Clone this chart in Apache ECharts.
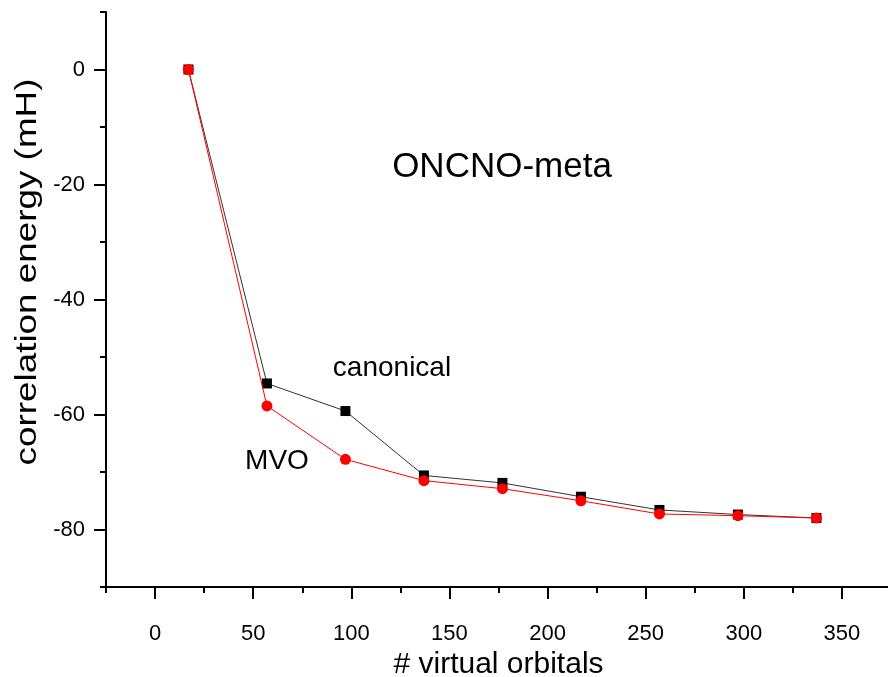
<!DOCTYPE html>
<html>
<head>
<meta charset="utf-8">
<script src="https://cdn.jsdelivr.net/npm/echarts@6/dist/echarts.min.js"></script>
<style>html,body{margin:0;padding:0;background:#fff}#c{width:888px;height:677px}</style>
</head>
<body>
<div id="c"></div>
<script>
const xValues = [17, 57, 97, 137, 177, 217, 257, 297, 337];
const canonical = [0, -54.6, -59.4, -70.6, -71.9, -74.3, -76.6, -77.4, -78.0];
const mvo = [0, -58.5, -67.8, -71.5, -72.9, -75.0, -77.3, -77.6, -78.0];
const xTickLabels = [0, 50, 100, 150, 200, 250, 300, 350];
const yTickLabels = [0, -20, -40, -60, -80];

const FONT = '"Liberation Sans", Arial, sans-serif';
const chart = echarts.init(document.getElementById('c'));
const pairs = (xs, ys) => xs.map((x, i) => [x, ys[i]]);

chart.setOption({
  animation: false,
  backgroundColor: '#fff',
  grid: { left: 106, top: 12, right: -3, bottom: 90, containLabel: false, outerBoundsMode: 'none' },
  xAxis: [
    {
      type: 'value', min: -25, max: 375, position: 'bottom',
      axisLine: { show: true, onZero: false, lineStyle: { color: '#000', width: 2 } },
      axisTick: { show: true, inside: false, length: 12, customValues: xTickLabels, lineStyle: { color: '#000', width: 2 } },
      axisLabel: { show: true, customValues: xTickLabels, margin: 36, fontFamily: FONT, fontSize: 22, color: '#000' },
      splitLine: { show: false },
      name: '# virtual orbitals', nameLocation: 'middle', nameGap: 61,
      nameTextStyle: { fontFamily: FONT, fontSize: 30, color: '#000' }
    },
    {
      type: 'value', min: -25, max: 375, interval: 25, position: 'bottom',
      axisLine: { show: false, onZero: false },
      axisTick: { show: true, inside: false, length: 6, lineStyle: { color: '#000', width: 2 } },
      axisLabel: { show: false },
      splitLine: { show: false }
    }
  ],
  yAxis: [
    {
      type: 'value', min: -90, max: 10, position: 'left',
      axisLine: { show: true, onZero: false, lineStyle: { color: '#000', width: 2 } },
      axisTick: { show: true, inside: false, length: 12, customValues: yTickLabels, lineStyle: { color: '#000', width: 2 } },
      axisLabel: { show: true, customValues: yTickLabels, margin: 21, fontFamily: FONT, fontSize: 22, color: '#000' },
      splitLine: { show: false }
    },
    {
      type: 'value', min: -90, max: 10, interval: 10, position: 'left',
      axisLine: { show: false, onZero: false },
      axisTick: { show: true, inside: false, length: 6, lineStyle: { color: '#000', width: 2 } },
      axisLabel: { show: false },
      splitLine: { show: false }
    }
  ],
  graphic: [
    { type: 'text', x: 502, y: 167, style: { text: 'ONCNO-meta', font: '35px ' + FONT, fill: '#000', align: 'center', verticalAlign: 'middle' } },
    { type: 'text', x: 392, y: 368, style: { text: 'canonical', font: '28px ' + FONT, fill: '#000', align: 'center', verticalAlign: 'middle' } },
    { type: 'text', x: 277, y: 461, style: { text: 'MVO', font: '28px ' + FONT, fill: '#000', align: 'center', verticalAlign: 'middle' } },
    { type: 'text', x: 28, y: 272, rotation: Math.PI / 2, scaleX: 1.27, style: { text: 'correlation energy (mH)', font: '29px ' + FONT, fill: '#000', align: 'center', verticalAlign: 'middle' } }
  ],
  series: [
    {
      type: 'line', name: 'canonical', data: pairs(xValues, canonical),
      symbol: 'rect', symbolSize: 10, showAllSymbol: true,
      lineStyle: { color: '#333', width: 1 }, itemStyle: { color: '#000' }, z: 2
    },
    {
      type: 'line', name: 'MVO', data: pairs(xValues, mvo),
      symbol: 'circle', symbolSize: 11, showAllSymbol: true,
      lineStyle: { color: '#ff0000', width: 1 }, itemStyle: { color: '#ff0000' }, z: 3
    }
  ]
});
</script>
</body>
</html>
